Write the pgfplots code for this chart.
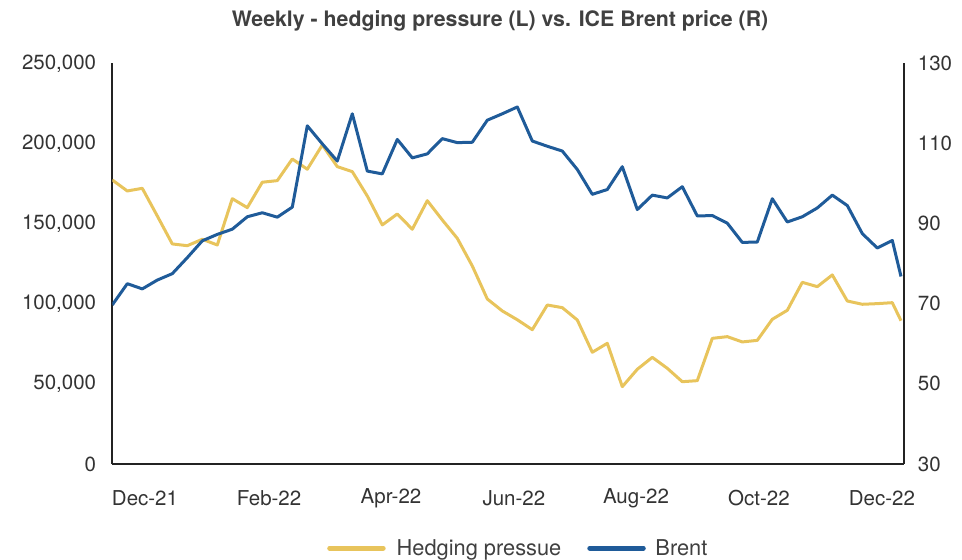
\documentclass[border=0pt]{standalone}
\usepackage{fontspec}
\setmainfont{TeX Gyre Heros}
\usepackage{pgfplots}
\usepackage{pgfplotstable}
\pgfplotsset{compat=1.18}

\definecolor{hedge}{RGB}{232,196,92}
\definecolor{brent}{RGB}{31,91,153}
\definecolor{axisgray}{RGB}{35,35,35}
\definecolor{labelgray}{RGB}{51,51,51}
\definecolor{titlegray}{RGB}{64,64,64}

% weekly index (0 = late Nov 2021), hedging pressure (lhs)
\pgfplotstableread{
x y
0 177200
1 170350
2 172000
3 154750
4 137300
5 136200
6 140200
7 136650
8 165550
9 159950
10 175800
11 176800
12 190300
13 183900
14 199050
15 185500
16 182400
17 167200
18 149150
19 156000
20 146450
21 164300
22 152250
23 140800
24 123550
25 102950
26 95500
27 90000
28 83800
29 99200
30 97550
31 89850
32 69700
33 75300
34 48250
35 59100
36 66550
37 59700
38 51350
39 52000
40 78400
41 79450
42 76150
43 77150
44 90300
45 95900
46 113350
47 110650
48 117950
49 101700
50 99650
51 100050
52 100650
52.58 89400
}\hedging

% ICE Brent price (rhs)
\pgfplotstableread{
x y
0 69.7
1 75.0
2 73.7
3 75.9
4 77.5
5 81.5
6 85.7
7 87.3
8 88.6
9 91.7
10 92.7
11 91.6
12 94.1
13 114.4
14 109.9
15 105.6
16 117.4
17 103.1
18 102.4
19 111.0
20 106.4
21 107.4
22 111.2
23 110.2
24 110.3
25 115.8
26 117.4
27 119.1
28 110.6
29 109.3
30 108.1
31 103.5
32 97.3
33 98.5
34 104.2
35 93.5
36 97.1
37 96.4
38 99.2
39 91.9
40 92.0
41 90.1
42 85.3
43 85.4
44 96.2
45 90.4
46 91.7
47 93.9
48 97.1
49 94.5
50 87.5
51 83.9
52 85.8
52.58 76.8
}\brentdata

\pgfplotsset{
  base/.style={
    scale only axis,
    width=791.4pt, height=400.7pt,
    xmin=0, xmax=52.76,
    major tick length=0pt,
    axis line style={line width=1.8pt, color=axisgray},
    tick label style={font=\fontsize{20.5}{24}\selectfont, text=labelgray},
    /pgf/number format/assume math mode=true,
  },
}

\begin{document}
\begin{tikzpicture}
\path[use as bounding box] (-112.3pt,-96pt) rectangle (849.7pt,464pt);

\begin{axis}[
  base,
  axis x line*=bottom,
  axis y line*=left,
  ymin=0, ymax=250000,
  ytick={0,50000,100000,150000,200000,250000},
  scaled y ticks=false,
  /pgf/number format/fixed,
  /pgf/number format/1000 sep={,},
  yticklabel style={anchor=east, inner sep=0pt, xshift=-16pt},
  xtick={2.18,10.45,18.58,26.77,34.91,43.11,51.31},
  xticklabels={Dec-21,Feb-22,Apr-22,Jun-22,Aug-22,Oct-22,Dec-22},
  xticklabel style={anchor=center, yshift=-34pt},
  title={\textbf{Weekly - hedging pressure (L) vs. ICE Brent price (R)}},
  title style={at={(axis description cs:0.49,1.092)}, anchor=center, yshift=0pt,
    font=\fontsize{21.3}{25}\selectfont, text=titlegray},
  legend style={at={(axis description cs:0.513,-0.21)}, anchor=center,
    draw=none, fill=none, font=\fontsize{21.8}{25}\selectfont,
    text=titlegray, legend columns=2,
    /tikz/every even column/.append style={column sep=24pt}},
  legend image code/.code={\draw[#1, line width=5pt, line cap=round]
    (2.5pt,0pt) -- (56pt,0pt); \path (66pt,0pt);},
]
\addplot[color=hedge, line width=3pt, line join=round] table[x=x, y=y] {\hedging};
\addlegendentry{Hedging pressue}
\addlegendimage{color=brent}
\addlegendentry{Brent}
\end{axis}

\begin{axis}[
  base,
  axis x line=none,
  axis y line*=right,
  ymin=30, ymax=130,
  ytick={30,50,70,90,110,130},
  yticklabel style={anchor=west, inner sep=0pt, xshift=14pt},
]
\addplot[color=brent, line width=3pt, line join=round] table[x=x, y=y] {\brentdata};
\end{axis}
\end{tikzpicture}
\end{document}
